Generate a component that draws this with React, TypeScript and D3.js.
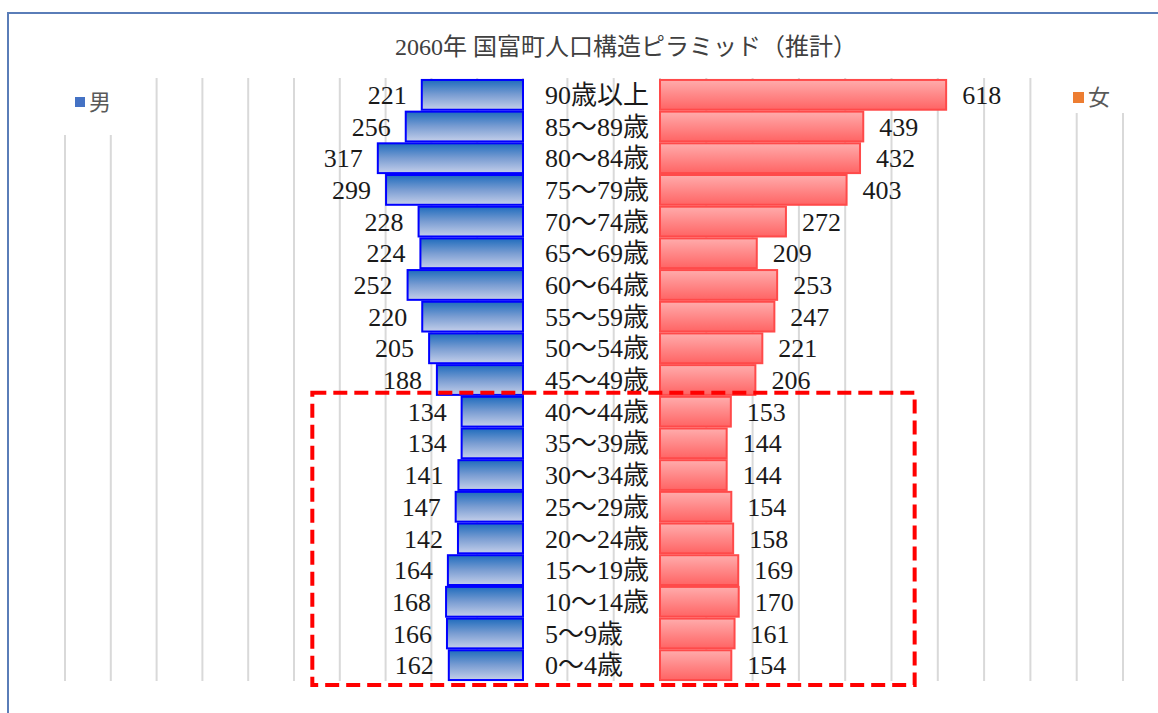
import React from 'react';
import * as d3 from 'd3';

const ageGroups = [
  '90歳以上', '85～89歳', '80～84歳', '75～79歳', '70～74歳', '65～69歳', '60～64歳',
  '55～59歳', '50～54歳', '45～49歳', '40～44歳', '35～39歳', '30～34歳', '25～29歳',
  '20～24歳', '15～19歳', '10～14歳', '5～9歳', '0～4歳',
];
const maleValues = [221, 256, 317, 299, 228, 224, 252, 220, 205, 188, 134, 134, 141, 147, 142, 164, 168, 166, 162];
const femaleValues = [618, 439, 432, 403, 272, 209, 253, 247, 221, 206, 153, 144, 144, 154, 158, 169, 170, 161, 154];
const gridTicks = [-200, -100, 0, 100, 200, 300, 400, 500, 600, 700, 800, 900, 1000];

const title = '2060年 国富町人口構造ピラミッド（推計）';
const serif = '"Liberation Serif", "Noto Sans CJK JP", serif';

const W = 1158;
const H = 713;

const App = () => {
  const y = d3.scaleBand<string>().domain(ageGroups).range([79, 681]).paddingInner(0.06).paddingOuter(0.03);
  const xMale = d3.scaleLinear().domain([0, 1000]).range([523, 65]);
  const xFemale = d3.scaleLinear().domain([0, 1000]).range([660, 1123]);

  const bh = y.bandwidth();
  const plotTop = 78;
  const plotBottom = 681;

  // highlighted block (ages 0-44)
  const boxTop = (y('40～44歳') as number) - 4;
  const boxLeft = xMale(460);
  const boxRight = xFemale(550);

  return (
    <svg width={W} height={H} style={{ position: 'absolute', left: 0, top: 0, background: '#fff' }}>
      <defs>
        <linearGradient id="maleGrad" x1="0" y1="0" x2="0" y2="1">
          <stop offset="0" stopColor="#1f6cbd" />
          <stop offset="0.5" stopColor="#7a9dd2" />
          <stop offset="1" stopColor="#c4cfea" />
        </linearGradient>
        <linearGradient id="femaleGrad" x1="0" y1="0" x2="0" y2="1">
          <stop offset="0" stopColor="#ffacac" />
          <stop offset="1" stopColor="#ff6464" />
        </linearGradient>
      </defs>

      <rect x={8} y={13} width={W + 20} height={H + 20} fill="#fff" stroke="#5a7db8" strokeWidth={2} />

      {/* gridlines */}
      {maleValues.length > 0 && gridTicks.filter(t => t >= 0).map(t => (
        <line key={'gm' + t} x1={xMale(t)} x2={xMale(t)} y1={plotTop} y2={plotBottom} stroke="#d9d9d9" strokeWidth={2} />
      ))}
      {gridTicks.map(t => (
        <line key={'gf' + t} x1={xFemale(t)} x2={xFemale(t)} y1={plotTop} y2={plotBottom} stroke="#d9d9d9" strokeWidth={2} />
      ))}

      <text x={626} y={47} textAnchor="middle" dy="0.35em" fontSize={24} fill="#404040" fontFamily={serif}>
        {title}
      </text>

      {/* legends */}
      <rect x={60} y={plotTop - 2} width={62} height={59} fill="#fff" />
      <rect x={75} y={97} width={10} height={10} fill="#4472c4" />
      <text x={89} y={102} dy="0.35em" fontSize={22} fill="#595959" fontFamily='"Noto Sans CJK JP", sans-serif'>男</text>
      <rect x={1062} y={plotTop - 2} width={70} height={37} fill="#fff" />
      <rect x={1073} y={92} width={11} height={11} fill="#ed7d31" />
      <text x={1088} y={97} dy="0.35em" fontSize={22} fill="#595959" fontFamily='"Noto Sans CJK JP", sans-serif'>女</text>

      {/* male bars */}
      {ageGroups.map((g, i) => (
        <g key={'m' + g}>
          <rect
            x={xMale(maleValues[i])}
            y={y(g)}
            width={xMale(0) - xMale(maleValues[i])}
            height={bh}
            fill="url(#maleGrad)"
            stroke="#0000ff"
            strokeWidth={2}
          />
          <text
            x={xMale(maleValues[i]) - 15}
            y={(y(g) as number) + bh / 2}
            dy="0.35em"
            textAnchor="end"
            fontSize={26}
            fill="#1a1a1a"
            fontFamily={serif}
          >
            {maleValues[i]}
          </text>
        </g>
      ))}

      {/* female bars */}
      {ageGroups.map((g, i) => (
        <g key={'f' + g}>
          <rect
            x={xFemale(0)}
            y={y(g)}
            width={xFemale(femaleValues[i]) - xFemale(0)}
            height={bh}
            fill="url(#femaleGrad)"
            stroke="#ff4a4a"
            strokeWidth={2}
          />
          <text
            x={xFemale(femaleValues[i]) + 16}
            y={(y(g) as number) + bh / 2}
            dy="0.35em"
            fontSize={26}
            fill="#1a1a1a"
            fontFamily={serif}
          >
            {femaleValues[i]}
          </text>
        </g>
      ))}

      {/* age labels */}
      {ageGroups.map(g => (
        <text
          key={'l' + g}
          x={545}
          y={(y(g) as number) + bh / 2}
          dy="0.35em"
          fontSize={26}
          fill="#1a1a1a"
          fontFamily={serif}
        >
          {g}
        </text>
      ))}

      <rect
        x={boxLeft}
        y={boxTop}
        width={boxRight - boxLeft}
        height={plotBottom + 4 - boxTop}
        fill="none"
        stroke="#ff0000"
        strokeWidth={4}
        strokeDasharray="14,7"
      />
    </svg>
  );
};

export default App;
